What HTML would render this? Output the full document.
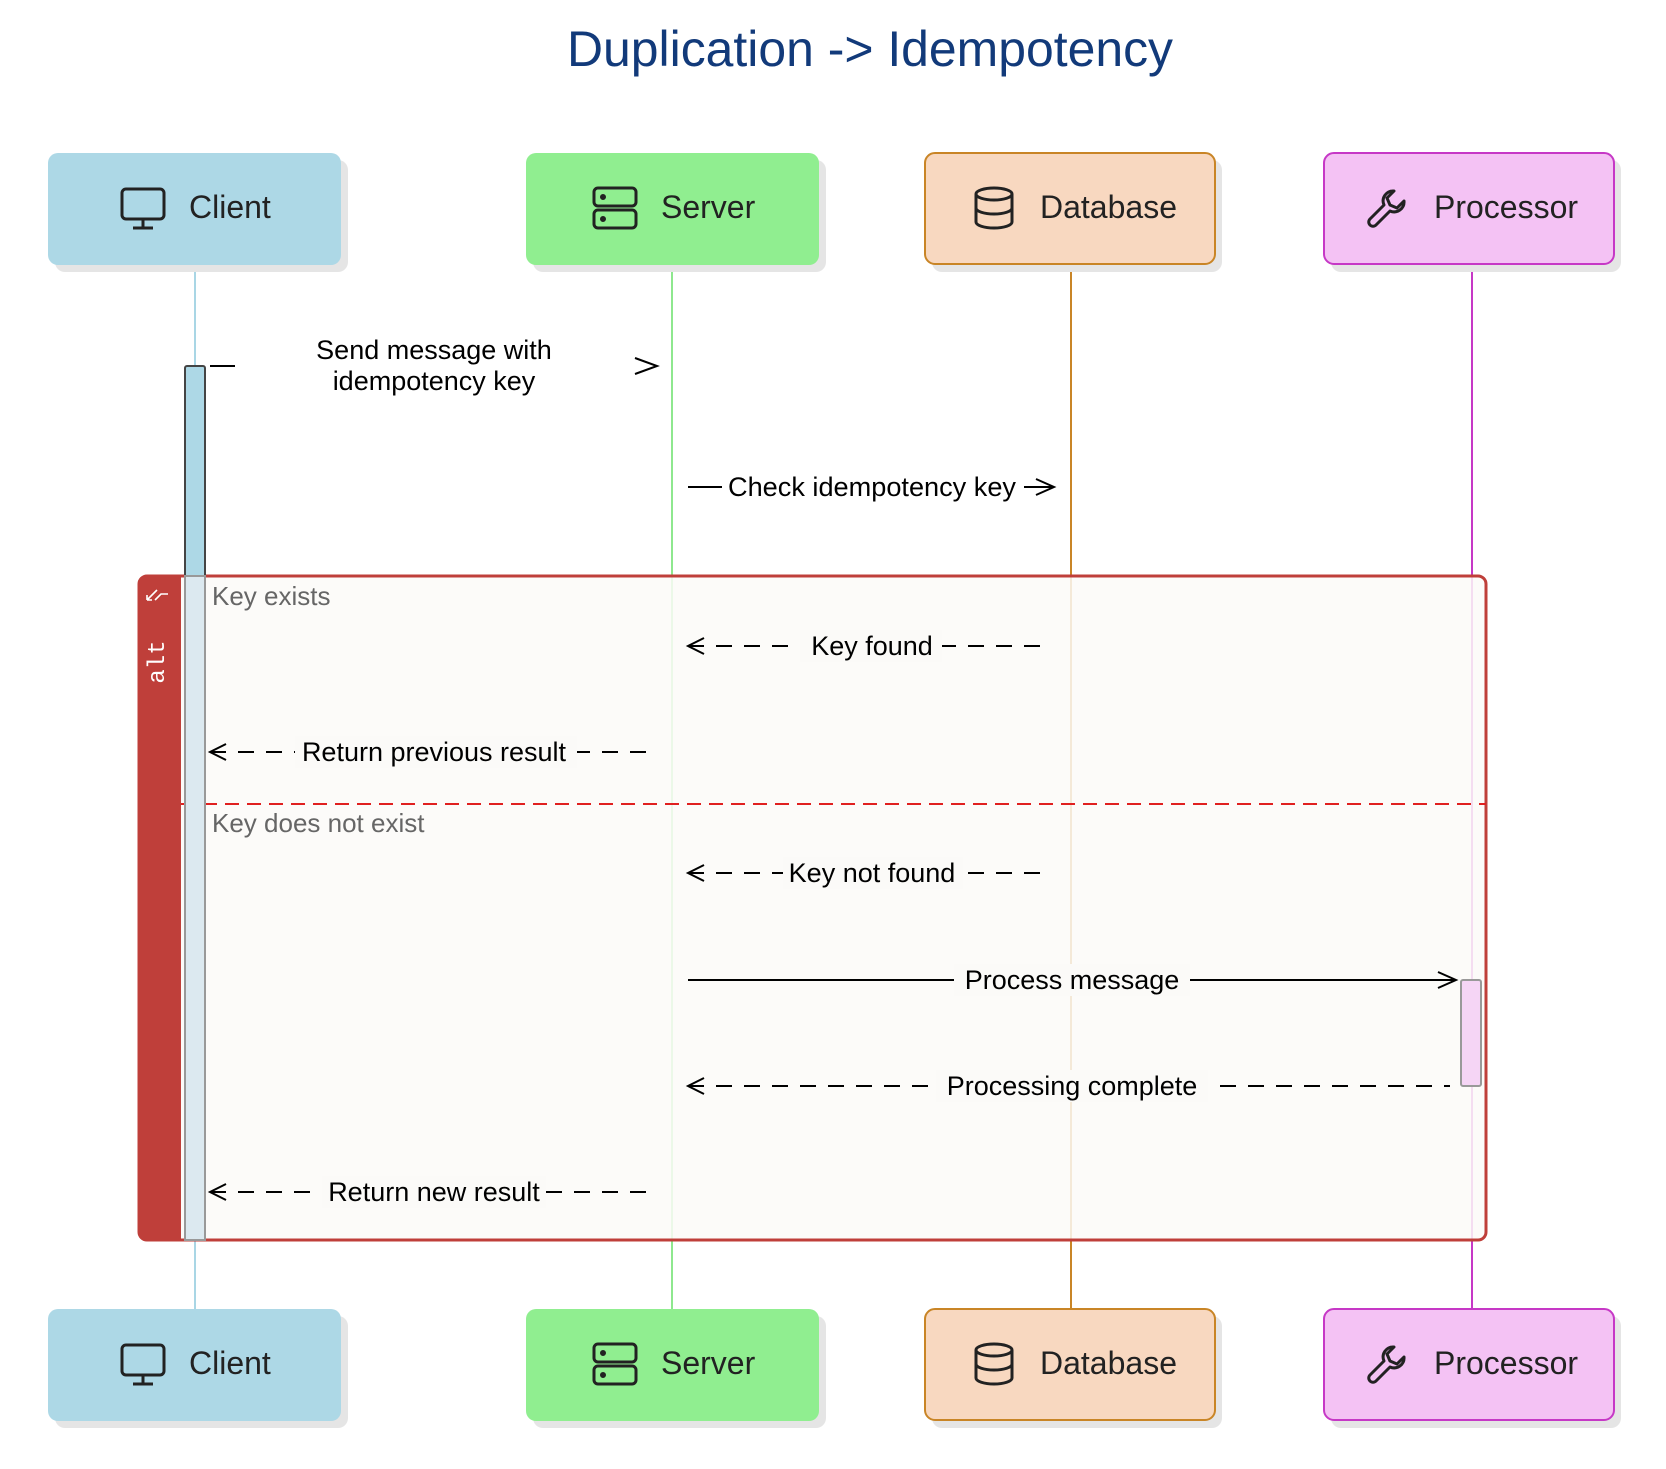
<!DOCTYPE html>
<html><head><meta charset="utf-8"><style>
html,body{margin:0;padding:0;background:#fff;}
svg{display:block;font-family:"Liberation Sans",sans-serif;}
</style></head><body>
<svg width="1666" height="1469" viewBox="0 0 1666 1469" xmlns="http://www.w3.org/2000/svg">
<text x="870" y="66" text-anchor="middle" font-size="50" fill="#123a7a" textLength="606" lengthAdjust="spacingAndGlyphs">Duplication -&gt; Idempotency</text>

<!-- lifelines -->
<line x1="195" y1="264" x2="195" y2="1310" stroke="#a9d6e5" stroke-width="2"/>
<line x1="672" y1="264" x2="672" y2="1310" stroke="#8ee88e" stroke-width="2"/>
<line x1="1071" y1="264" x2="1071" y2="1310" stroke="#c98526" stroke-width="2"/>
<line x1="1472" y1="264" x2="1472" y2="1310" stroke="#c638c6" stroke-width="2"/>

<!-- frame -->
<rect x="139" y="576" width="1347" height="664" rx="8" fill="#fbfaf8" fill-opacity="0.85" stroke="#bf3f3a" stroke-width="3"/>
<path d="M147 576 H181 V1240 H147 Q139 1240 139 1232 V584 Q139 576 147 576 Z" fill="#bf3f3a"/>
<text transform="translate(164,662) rotate(-90)" text-anchor="middle" font-family="Liberation Mono,monospace" font-size="24" fill="#fff">alt</text>
<path d="M147 600 L157 590 M147 600 h5 M147 600 v-5 M155 600 l6 -6 h7" stroke="#fff" stroke-width="1.6" fill="none"/>
<line x1="181" y1="804" x2="1486" y2="804" stroke="#e02020" stroke-width="2" stroke-dasharray="14 8"/>
<text x="212" y="605" font-size="26" fill="#666">Key exists</text>
<text x="212" y="832" font-size="26" fill="#666">Key does not exist</text>

<!-- activations -->
<rect x="185" y="366" width="20" height="874" rx="2" fill="#add8e6" stroke="#444" stroke-width="2"/>
<rect x="185" y="576" width="20" height="664" fill="#dce9f0" stroke="#999" stroke-width="2"/>
<rect x="1461" y="980" width="20" height="106" rx="2" fill="#f5d5f5" stroke="#999" stroke-width="2"/>

<g stroke="#000" stroke-width="2" fill="none">
<line x1="210" y1="366" x2="235" y2="366"/>
<path d="M635 358 L657 366 L635 374"/>
<line x1="688" y1="487" x2="722" y2="487"/><line x1="1024" y1="487" x2="1054" y2="487"/>
<path d="M1036 479 L1054 487 L1036 495"/>
<line x1="688" y1="646" x2="1050" y2="646" stroke-dasharray="16 12"/>
<path d="M704 638 L688 646 L704 654"/>
<line x1="210" y1="752" x2="658" y2="752" stroke-dasharray="16 12"/>
<path d="M226 744 L210 752 L226 760"/>
<line x1="688" y1="873" x2="1050" y2="873" stroke-dasharray="16 12"/>
<path d="M704 865 L688 873 L704 881"/>
<line x1="688" y1="980" x2="1456" y2="980"/>
<path d="M1438 972 L1456 980 L1438 988"/>
<line x1="688" y1="1086" x2="1450" y2="1086" stroke-dasharray="16 12"/>
<path d="M704 1078 L688 1086 L704 1094"/>
<line x1="210" y1="1192" x2="658" y2="1192" stroke-dasharray="16 12"/>
<path d="M226 1184 L210 1192 L226 1200"/>
</g>
<g font-size="27" fill="#000" text-anchor="middle">
<text x="434" y="359">Send message with</text>
<text x="434" y="390">idempotency key</text>
<rect x="725" y="471" width="296" height="32" fill="#fff"/>
<text x="872" y="496" textLength="288" lengthAdjust="spacingAndGlyphs">Check idempotency key</text>
<rect x="800" y="630" width="142" height="32" fill="#fbfaf8"/>
<text x="872" y="655">Key found</text>
<rect x="295" y="736" width="282" height="32" fill="#fbfaf8"/>
<text x="434" y="761">Return previous result</text>
<rect x="783" y="857" width="180" height="32" fill="#fbfaf8"/>
<text x="872" y="882">Key not found</text>
<rect x="954" y="964" width="236" height="32" fill="#fbfaf8"/>
<text x="1072" y="989">Process message</text>
<rect x="936" y="1070" width="272" height="32" fill="#fbfaf8"/>
<text x="1072" y="1095">Processing complete</text>
<rect x="322" y="1176" width="224" height="32" fill="#fbfaf8"/>
<text x="434" y="1201">Return new result</text>
</g>

<defs>
<g id="mon"><rect x="0" y="0" width="42" height="30" rx="4" fill="none" stroke="#222" stroke-width="3"/><line x1="21" y1="30" x2="21" y2="39" stroke="#222" stroke-width="3"/><line x1="11" y1="39" x2="31" y2="39" stroke="#222" stroke-width="3"/></g>
<g id="srv" fill="none" stroke="#222" stroke-width="3"><rect x="0" y="0" width="42" height="18" rx="4"/><rect x="0" y="22" width="42" height="18" rx="4"/><circle cx="9" cy="9" r="1.5" fill="#222"/><circle cx="9" cy="31" r="1.5" fill="#222"/></g>
<g id="db" fill="none" stroke="#222" stroke-width="3"><ellipse cx="19" cy="6" rx="18" ry="6"/><path d="M1 6 V34 A18 6 0 0 0 37 34 V6"/><path d="M1 20 A18 6 0 0 0 37 20"/></g>
<g id="wr" fill="none" stroke="#222" stroke-width="3" stroke-linejoin="round"><path d="M26 2 A10 10 0 0 0 16 16 L2 30 A4 4 0 0 0 8 36 L22 22 A10 10 0 0 0 36 12 L29 19 L22 16 L19 9 Z"/></g>
<g id="row">
<rect x="55" y="160" width="293" height="112" rx="10" fill="#e5e5e5"/>
<rect x="48" y="153" width="293" height="112" rx="10" fill="#add8e6"/>
<use href="#mon" x="122" y="189"/><text x="189" y="218" font-size="32" fill="#222">Client</text>
<rect x="533" y="160" width="293" height="112" rx="10" fill="#e5e5e5"/>
<rect x="526" y="153" width="293" height="112" rx="10" fill="#90ee90"/>
<use href="#srv" x="594" y="188"/><text x="661" y="218" font-size="32" fill="#222">Server</text>
<rect x="932" y="160" width="290" height="112" rx="10" fill="#e5e5e5"/>
<rect x="925" y="153" width="290" height="111" rx="10" fill="#f8d8c0" stroke="#c98526" stroke-width="2"/>
<use href="#db" x="975" y="188"/><text x="1040" y="218" font-size="32" fill="#222">Database</text>
<rect x="1331" y="160" width="290" height="112" rx="10" fill="#e5e5e5"/>
<rect x="1324" y="153" width="290" height="111" rx="10" fill="#f4c2f4" stroke="#c638c6" stroke-width="2"/>
<use href="#wr" x="1368" y="189"/><text x="1434" y="218" font-size="32" fill="#222">Processor</text>
</g>
</defs>
<use href="#row"/>
<use href="#row" y="1156"/>
</svg>
</body></html>
